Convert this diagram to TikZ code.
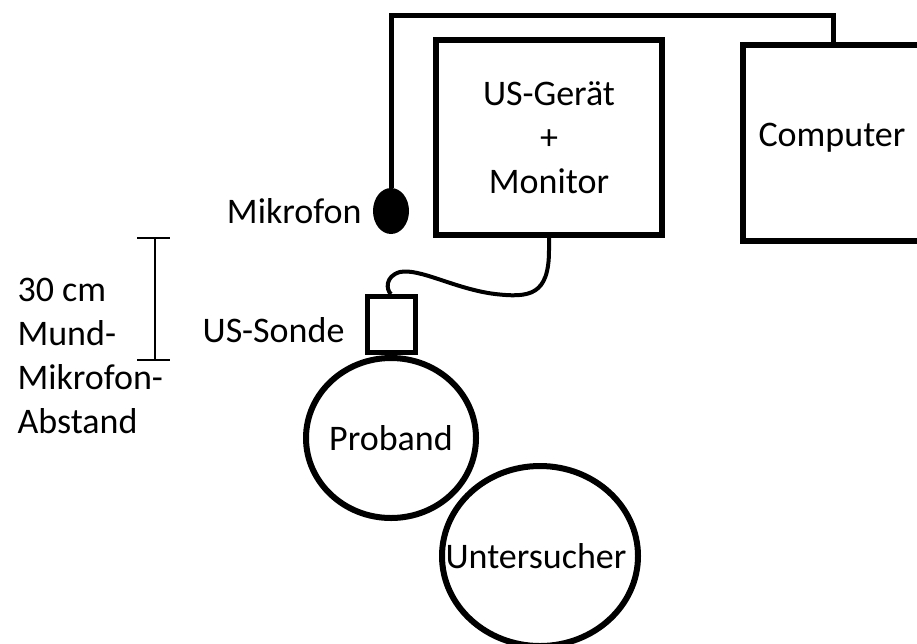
\documentclass[tikz,border=0pt]{standalone}
\usepackage{fontspec}
\setmainfont{Carlito}
\usetikzlibrary{shapes.geometric}
\begin{document}
\begin{tikzpicture}[x=1pt,y=-1pt,
  every node/.style={font=\fontsize{36}{44}\selectfont},
  boxshape/.style={draw, line width=6pt, rectangle, inner sep=0pt},
  person/.style={draw, line width=6pt, ellipse, inner sep=0pt},
  wire/.style={line width=5pt},
  cable/.style={line width=4pt},
  bar/.style={line width=2.5pt}]
\useasboundingbox (0,0) rectangle (917,643);
% devices
\node[boxshape, minimum width=226pt, minimum height=195pt, align=center] (usg) at (549,137.5) {US-Gerät\\+\\Monitor};
\node[boxshape, minimum width=220pt, minimum height=196pt, anchor=north west] (comp) at (740,42) {};
\node[anchor=west] (comptext) at (755,138) {Computer};
% microphone
\node[ellipse, fill=black, minimum width=36pt, minimum height=46pt, inner sep=0pt] (mic) at (391,211) {};
\node[anchor=base east] (miclabel) at (365,223) {Mikrofon};
\draw[wire] (mic.north) |- ([xshift=93pt]comp.north west |- 0,15) -- ([xshift=93pt]comp.north west);
% persons
\node[person, minimum width=170pt, minimum height=160pt, label={center:Proband}] (prob) at (391,438) {};
\node[person, minimum width=196pt, minimum height=180pt, label={[xshift=-4pt]center:Untersucher}] (unt) at (540,556) {};
% probe
\node[boxshape, line width=5pt, minimum width=48pt, minimum height=56pt, anchor=south] (sonde) at (prob.north) {};
\node[anchor=base east] (sondelabel) at (348,342) {US-Sonde};
\draw[cable] (usg.south) -- (549,250) .. controls (549,295) and (530,298) .. (495,294)
  .. controls (455,289) and (420,268) .. (400,272)
  .. controls (385,276) and (386,290) .. (sonde.north);
% distance bar
\coordinate (bt) at (155,238);
\coordinate (bb) at (155,360);
\draw[bar] (bt) -- (bb);
\draw[bar] ([xshift=-18pt]bt) -- ([xshift=15pt]bt);
\draw[bar] ([xshift=-18pt]bb) -- ([xshift=15pt]bb);
\node[anchor=base west, align=left] (dist) at (14,433) {30 cm\\Mund-\\Mikrofon-\\Abstand};
\end{tikzpicture}
\end{document}
